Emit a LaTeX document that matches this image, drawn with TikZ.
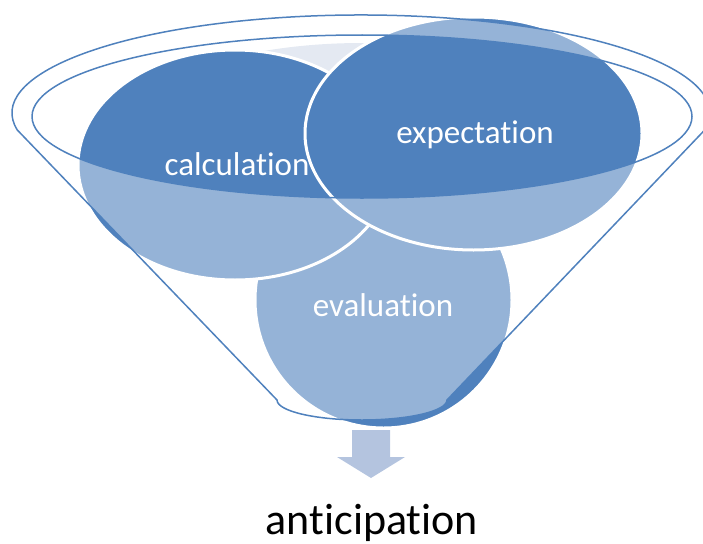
\documentclass[tikz,border=0pt]{standalone}
\usepackage{fontspec}
\setmainfont{Carlito}[RawFeature={-liga}]
\usetikzlibrary{shapes.geometric}
\definecolor{accent}{RGB}{79,129,189}
\definecolor{haze}{RGB}{228,233,242}
\definecolor{arrowfill}{RGB}{180,196,223}
% outline of the funnel: rim arc, two sides and the rounded spout
\newcommand\funneloutline{(17.3,130) arc[start angle=170, end angle=370, x radius=349, y radius=98]
  -- (447,400) arc[start angle=0, end angle=180, x radius=85, y radius=20] -- cycle}
\newcommand\funnelmouth{(362,116.5) ellipse [x radius=330, y radius=81.5]}
\begin{document}
\begin{tikzpicture}[x=1pt,y=-1pt,
  bubble/.style={ellipse, fill=accent, draw=white, line width=3pt, inner sep=0pt},
  bubbletext/.style={text=white, font=\fontsize{33}{40}\selectfont, anchor=base, inner sep=0pt},
  rim/.style={draw=accent, line width=1.5pt, line join=round}]
\useasboundingbox (0,0) rectangle (703,543);
% faint backdrop visible inside the mouth
\begin{scope}
  \clip \funnelmouth;
  \fill[haze] (362,143) ellipse [x radius=250, y radius=100];
\end{scope}
% the three items dropped into the funnel
\node[bubble, minimum width=257pt, minimum height=256pt] (eval) at (383.5,300) {};
\node[bubbletext] (evaltext) at (383,316) {evaluation};
\node[bubble, minimum width=314pt, minimum height=230pt] (calc) at (235,165) {};
\node[bubbletext] (calctext) at (237,175) {calculation};
\node[bubble, minimum width=337pt, minimum height=233pt] (expect) at (473.5,133.5) {};
\node[bubbletext] (expecttext) at (475,143) {expectation};
% translucent funnel body over the items
\path[fill=white, fill opacity=0.4, even odd rule] \funneloutline \funnelmouth;
\draw[rim] \funneloutline;
\draw[rim] \funnelmouth;
% output arrow and result
\fill[arrowfill] (352,430) -- (390,430) -- (390,457) -- (405,457) -- (371,478)
  -- (337,457) -- (352,457) -- cycle;
\node[font=\fontsize{44}{52}\selectfont, anchor=base, inner sep=0pt] (outcome) at (372,534) {anticipation};
\end{tikzpicture}
\end{document}
